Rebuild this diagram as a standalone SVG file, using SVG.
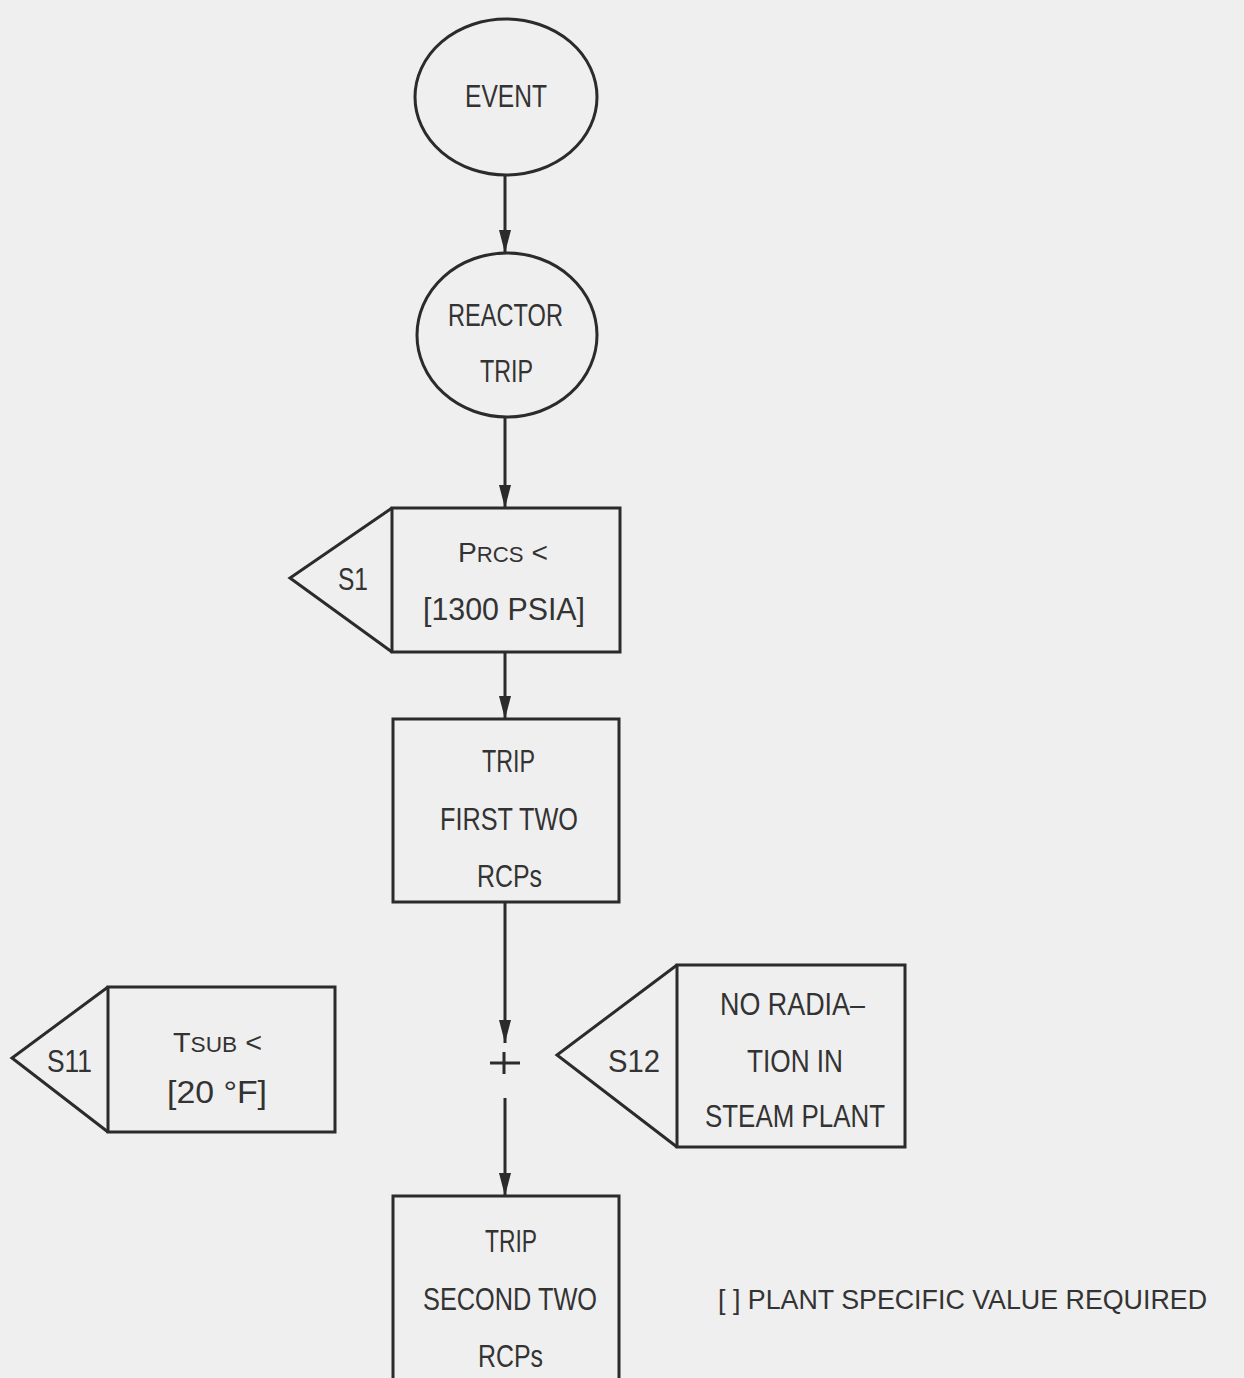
<svg xmlns="http://www.w3.org/2000/svg" width="1244" height="1378" viewBox="0 0 1244 1378">
<style>
.s{fill:none;stroke:#2b2b2b;stroke-width:3}
.t{font-family:"Liberation Sans Narrow","Liberation Sans",Arial,sans-serif;font-size:32px;fill:#333333}
.c{stroke:#2b2b2b;stroke-width:3;fill:none}
</style>
<defs>
<marker id="ah" markerUnits="userSpaceOnUse" markerWidth="24" markerHeight="14" viewBox="0 0 24 14" refX="23" refY="7" orient="auto">
<path d="M0,1 L23,7 L0,13 Z" fill="#2b2b2b"/>
</marker>
</defs>
<rect x="0" y="0" width="1244" height="1378" fill="#efefef"/>
<g id="connectors">
<line class="c" x1="505" y1="175" x2="505" y2="253" marker-end="url(#ah)"/>
<line class="c" x1="505" y1="417" x2="505" y2="508" marker-end="url(#ah)"/>
<line class="c" x1="505" y1="652" x2="505" y2="719" marker-end="url(#ah)"/>
<line class="c" x1="505" y1="902" x2="505" y2="1043" marker-end="url(#ah)"/>
<line class="c" x1="505" y1="1098" x2="505" y2="1196" marker-end="url(#ah)"/>
</g>
<g id="junction">
<line class="c" x1="490" y1="1063" x2="520" y2="1063"/>
<line class="c" x1="504" y1="1052" x2="504" y2="1074"/>
</g>
<g id="event">
<ellipse class="s" cx="506" cy="97" rx="91" ry="78"/>
<text class="t" x="465" y="107" textLength="82" lengthAdjust="spacingAndGlyphs">EVENT</text>
</g>
<g id="reactor-trip">
<ellipse class="s" cx="507" cy="335" rx="90" ry="82"/>
<text class="t" x="448" y="326" textLength="115" lengthAdjust="spacingAndGlyphs">REACTOR</text>
<text class="t" x="480" y="382" textLength="53" lengthAdjust="spacingAndGlyphs">TRIP</text>
</g>
<g id="s1">
<rect class="s" x="392" y="508" width="228" height="144"/>
<polyline class="s" points="392,508 290,578 392,652"/>
<text class="t" x="338" y="590" textLength="30" lengthAdjust="spacingAndGlyphs">S1</text>
<text class="t" x="458" y="562" textLength="90" lengthAdjust="spacingAndGlyphs"><tspan font-size="28">P</tspan><tspan font-size="22">RCS</tspan><tspan font-size="28"> &lt;</tspan></text>
<text class="t" x="423" y="620" textLength="162" lengthAdjust="spacingAndGlyphs">[1300 PSIA]</text>
</g>
<g id="trip-first">
<rect class="s" x="393" y="719" width="226" height="183"/>
<text class="t" x="482" y="772" textLength="53" lengthAdjust="spacingAndGlyphs">TRIP</text>
<text class="t" x="440" y="830" textLength="138" lengthAdjust="spacingAndGlyphs">FIRST TWO</text>
<text class="t" x="477" y="887" textLength="65" lengthAdjust="spacingAndGlyphs">RCPs</text>
</g>
<g id="s11">
<rect class="s" x="108" y="987" width="227" height="145"/>
<polyline class="s" points="108,987 12,1058 108,1132"/>
<text class="t" x="47" y="1072" textLength="45" lengthAdjust="spacingAndGlyphs">S11</text>
<text class="t" x="173" y="1052" textLength="89" lengthAdjust="spacingAndGlyphs"><tspan font-size="28">T</tspan><tspan font-size="22">SUB</tspan><tspan font-size="28"> &lt;</tspan></text>
<text class="t" x="167" y="1103" textLength="100" lengthAdjust="spacingAndGlyphs">[20 °F]</text>
</g>
<g id="s12">
<rect class="s" x="677" y="965" width="228" height="182"/>
<polyline class="s" points="677,965 557,1055 677,1147"/>
<text class="t" x="608" y="1072" textLength="52" lengthAdjust="spacingAndGlyphs">S12</text>
<text class="t" x="720" y="1015" textLength="145" lengthAdjust="spacingAndGlyphs">NO RADIA–</text>
<text class="t" x="747" y="1072" textLength="96" lengthAdjust="spacingAndGlyphs">TION IN</text>
<text class="t" x="705" y="1127" textLength="180" lengthAdjust="spacingAndGlyphs">STEAM PLANT</text>
</g>
<g id="trip-second">
<rect class="s" x="393" y="1196" width="226" height="200"/>
<text class="t" x="485" y="1252" textLength="52" lengthAdjust="spacingAndGlyphs">TRIP</text>
<text class="t" x="423" y="1310" textLength="174" lengthAdjust="spacingAndGlyphs">SECOND TWO</text>
<text class="t" x="478" y="1367" textLength="65" lengthAdjust="spacingAndGlyphs">RCPs</text>
</g>
<g id="legend">
<text class="t" x="718" y="1309" font-size="28.5" style="font-size:28.5px" textLength="489" lengthAdjust="spacingAndGlyphs">[ ] PLANT SPECIFIC VALUE REQUIRED</text>
</g>
</svg>
